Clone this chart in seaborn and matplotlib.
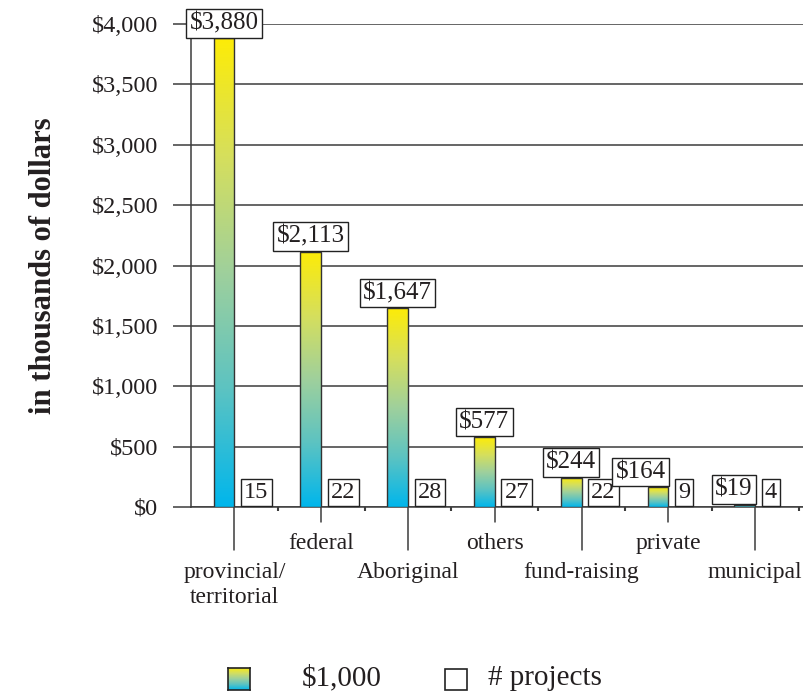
import numpy as np
import pandas as pd
import matplotlib
matplotlib.use("Agg")
import matplotlib.pyplot as plt
import matplotlib.transforms as mtransforms
from matplotlib.colors import LinearSegmentedColormap
from matplotlib.patches import Rectangle
import seaborn as sns

# ---- data -------------------------------------------------------------
sources = ["provincial/\nterritorial", "federal", "Aboriginal", "others",
           "fund-raising", "private", "municipal"]
dollars = [3880, 2113, 1647, 577, 244, 164, 19]        # in thousands of dollars
projects = [15, 22, 28, 27, 22, 9, 4]                 # number of projects
series_names = ["$1,000", "# projects"]
y_ticks = [0, 500, 1000, 1500, 2000, 2500, 3000, 3500, 4000]

df = pd.DataFrame({
    "source": sources * 2,
    "series": [series_names[0]] * len(sources) + [series_names[1]] * len(sources),
    "value": dollars + projects,
})

# ---- style ------------------------------------------------------------
sns.set_theme(style="white")
plt.rcParams["font.family"] = ["Liberation Serif", "DejaVu Serif"]
text_color = "#231f20"
grid_color = "#3c3c3c"

grad_cmap = LinearSegmentedColormap.from_list(
    "money", ["#00b6ec", "#5cc3c2", "#9fd09c", "#d6df5c", "#fdec07"])

fig = plt.figure(figsize=(8.04, 6.96), dpi=100)
W, H = 804, 696
ax = fig.add_axes([191 / W, (H - 507) / H, (W - 191) / W, (507 - 24) / H])

sns.barplot(data=df, x="source", y="value", hue="series", order=sources,
            hue_order=series_names, palette=["#ffffff", "#ffffff"],
            width=0.48, dodge=True, gap=0, legend=False, ax=ax, zorder=3)

n = len(sources)
money_bars = ax.patches[:n]
count_bars = ax.patches[n:2 * n]

# gradient fill for the dollar bars, yellow at the top, cyan at the bottom
grad = np.linspace(0, 1, 256).reshape(-1, 1)
for bar in money_bars:
    x0, w = bar.get_x(), bar.get_width()
    h = bar.get_height()
    bar.set_facecolor("none")
    bar.set_edgecolor("#333333")
    bar.set_linewidth(1.0)
    bar.set_zorder(4)
    im = ax.imshow(grad, extent=[x0, x0 + w, 0, h], origin="lower",
                   cmap=grad_cmap, aspect="auto", zorder=3.5,
                   interpolation="bilinear")
    im.set_clip_path(bar)

for bar in count_bars:
    bar.set_edgecolor("none")
    bar.set_facecolor("none")

# ---- axes -------------------------------------------------------------
ax.set_xlim(-0.5, -0.5 + (W - 191) / 86.8)
ax.set_ylim(0, 4000)
ax.set_yticks(y_ticks)
ax.set_yticklabels([f"${v:,}" for v in y_ticks])
ax.yaxis.grid(True, color=grid_color, linewidth=1.1, zorder=1)
ax.tick_params(axis="y", length=13, width=1.1, color=grid_color, pad=10.5,
               labelsize=17.5, labelcolor=text_color, left=True)
ax.set_xticks(np.arange(n) + 0.5, minor=False)
ax.set_xticklabels([])
ax.tick_params(axis="x", length=3, width=1.5, color=grid_color, bottom=True)
ax.set_xlabel("")
ax.set_ylabel("in thousands of dollars", fontsize=22, fontweight="bold",
              color=text_color, labelpad=24)
for side in ["top", "right"]:
    ax.spines[side].set_visible(False)
ax.spines["left"].set_color(grid_color)
ax.spines["left"].set_linewidth(1.1)
ax.spines["bottom"].set_color(grid_color)
ax.spines["bottom"].set_linewidth(1.1)

# ---- value labels -----------------------------------------------------
box = dict(boxstyle="square,pad=0.13", facecolor="white",
           edgecolor="#222222", linewidth=1.0)
count_labels = []
for bar, c in zip(count_bars, projects):
    t = ax.annotate(f"{c}", xy=(bar.get_x(), 0), xytext=(7.0, 3.0),
                    textcoords="offset points", ha="left", va="bottom",
                    fontsize=17.5, color=text_color, bbox=box, zorder=6)
    count_labels.append(t)

money_labels = []
for bar, v in zip(money_bars, dollars):
    t = ax.annotate(f"${v:,}", xy=(bar.get_x() + bar.get_width() / 2, v),
                    xytext=(0, 3), textcoords="offset points",
                    ha="center", va="bottom", fontsize=18, color=text_color,
                    bbox=box, zorder=7)
    money_labels.append(t)

# nudge a value box left when it would run into the project-count box
fig.canvas.draw()
renderer = fig.canvas.get_renderer()
for ml, cl in zip(money_labels, count_labels):
    mb = ml.get_bbox_patch().get_window_extent(renderer)
    cb = cl.get_bbox_patch().get_window_extent(renderer)
    if mb.y0 < cb.y1 and mb.x1 > cb.x0 - 4:
        shift_px = mb.x1 - (cb.x0 - 6)
        ml.set_position((-shift_px * 72 / fig.dpi, 3))

# ---- staggered category labels with leader lines ----------------------
blend = mtransforms.blended_transform_factory(ax.transData, ax.transAxes)
for i, name in enumerate(sources):
    low = (i % 2 == 0)
    line_end = -0.089 if low else -0.031
    text_y = -0.114 if low else -0.053
    ax.plot([i, i], [0, line_end], transform=blend, color=grid_color,
            linewidth=1.1, clip_on=False, zorder=2)
    ax.text(i, text_y, name, transform=blend, ha="center", va="top",
            fontsize=17, color=text_color, linespacing=1.25)

# ---- legend -----------------------------------------------------------
leg_ax = fig.add_axes([228 / W, (H - 690) / H, 22 / W, 22 / H])
leg_ax.imshow(grad, origin="lower", cmap=grad_cmap, aspect="auto",
              extent=[0, 1, 0, 1])
leg_ax.set_xticks([])
leg_ax.set_yticks([])
for s in leg_ax.spines.values():
    s.set_color("#222222")
    s.set_linewidth(1.2)
fig.text(302 / W, (H - 678) / H, series_names[0], fontsize=21,
         color=text_color, ha="left", va="center")
fig.patches.append(Rectangle((445 / W, (H - 690) / H), 22 / W, 21 / H,
                             transform=fig.transFigure, facecolor="white",
                             edgecolor="#222222", linewidth=1.2))
fig.text(488 / W, (H - 678) / H, series_names[1], fontsize=21,
         color=text_color, ha="left", va="center")

fig.savefig("out.png", dpi=100)
